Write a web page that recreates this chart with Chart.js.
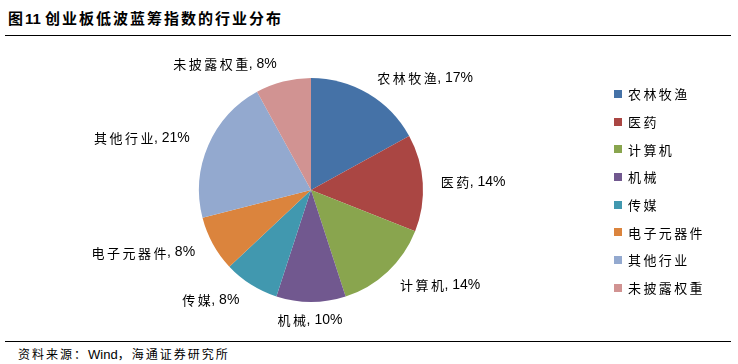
<!DOCTYPE html>
<html>
<head>
<meta charset="utf-8">
<script src="https://cdn.jsdelivr.net/npm/chart.js@4"></script>
<style>
  body { margin: 0; background: #fff; width: 738px; height: 364px; position: relative; overflow: hidden;
         font-family: "Liberation Sans", "Noto Sans CJK SC", sans-serif; }
  #title { position: absolute; left: 8px; top: 7px; font-size: 15px; letter-spacing: 2px; font-weight: bold; color: #000; }
  #title b, #source b { letter-spacing: 0; }
  #topLine { position: absolute; left: 5px; top: 35px; width: 726px; height: 0; border-top: 1.5px solid #000; }
  #bottomLine { position: absolute; left: 5px; top: 341px; width: 726px; height: 0; border-top: 1.5px solid #000; }
  #source { position: absolute; left: 18px; top: 345px; font-size: 12px; letter-spacing: 2px; color: #000; }
  #source b { font-weight: normal; font-size: 13px; }
  #chartBox { position: absolute; left: 0; top: 40px; width: 622px; height: 300px; }
  #legend { position: absolute; left: 614px; top: 80px; font-size: 13px; letter-spacing: 2.4px; color: #000; }
  .item { height: 27.7px; display: flex; align-items: center; }
  .box { width: 8px; height: 8px; margin-right: 6px; }
</style>
</head>
<body>
<div id="title">图<b>11 </b>创业板低波蓝筹指数的行业分布</div>
<div id="topLine"></div>
<div id="chartBox"><canvas id="pieChart"></canvas></div>
<div id="legend"></div>
<div id="bottomLine"></div>
<div id="source">资料来源：<b>Wind</b>，海通证券研究所</div>
<script>
// industries and their weights (%)
const industries = ['农林牧渔', '医药', '计算机', '机械', '传媒', '电子元器件', '其他行业', '未披露权重'];
const weights = [17, 14, 14, 10, 8, 8, 21, 8];
const colors = ['#4572A7', '#AA4643', '#89A54E', '#71588F', '#4198AF', '#DB843D', '#93A9CF', '#D19392'];

const nameFont = '13px "Noto Sans CJK SC", sans-serif';
const numFont = '14px "Liberation Sans", sans-serif';

// labels outside each slice, "name, xx%"
const outsideLabels = {
  id: 'outsideLabels',
  afterDatasetsDraw(chart) {
    const ctx = chart.ctx;
    const meta = chart.getDatasetMeta(0);
    ctx.save();
    ctx.fillStyle = '#000';
    ctx.textBaseline = 'middle';
    ctx.textAlign = 'left';
    meta.data.forEach((arc, i) => {
      const mid = (arc.startAngle + arc.endAngle) / 2;
      const r = arc.outerRadius + 18;
      const x = arc.x + Math.cos(mid) * r;
      const y = arc.y + Math.sin(mid) * r;
      const c = Math.cos(mid);
      const name = industries[i];
      const suffix = ', ' + weights[i] + '%';

      ctx.font = nameFont;
      ctx.letterSpacing = '2.5px';
      const wName = ctx.measureText(name).width;
      ctx.font = numFont;
      ctx.letterSpacing = '0px';
      const wNum = ctx.measureText(suffix).width;
      const total = wName + wNum;

      let startX;
      if (Math.abs(c) < 0.2) startX = x - total / 2;
      else if (c > 0) startX = x;
      else startX = x - total;

      ctx.font = nameFont;
      ctx.letterSpacing = '2.5px';
      ctx.fillText(name, startX, y);
      ctx.font = numFont;
      ctx.letterSpacing = '0px';
      ctx.fillText(suffix, startX + wName - 2, y);
    });
    ctx.restore();
  }
};

new Chart(document.getElementById('pieChart'), {
  type: 'pie',
  data: {
    labels: industries,
    datasets: [{
      data: weights,
      backgroundColor: colors,
      borderWidth: 0
    }]
  },
  options: {
    responsive: true,
    maintainAspectRatio: false,
    animation: false,
    layout: { padding: { top: 38, bottom: 38, left: 100, right: 100 } },
    plugins: {
      legend: { display: false },
      tooltip: { enabled: false }
    }
  },
  plugins: [outsideLabels]
});

// legend on the right
const legend = document.getElementById('legend');
industries.forEach((name, i) => {
  const item = document.createElement('div');
  item.className = 'item';
  item.innerHTML = '<div class="box" style="background:' + colors[i] + '"></div><span>' + name + '</span>';
  legend.appendChild(item);
});
</script>
</body>
</html>
